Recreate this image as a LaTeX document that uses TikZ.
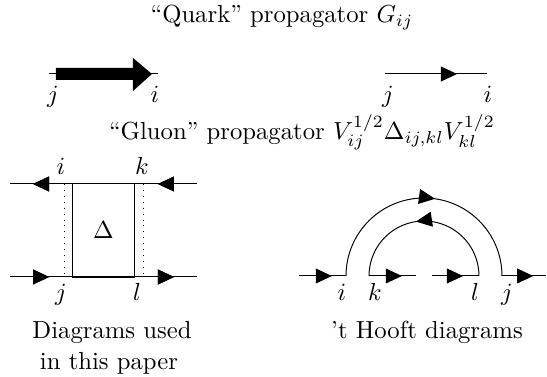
\documentclass[tikz,border=0pt]{standalone}
\usepackage{amsmath,amssymb}
\usetikzlibrary{arrows.meta,decorations.markings}

\begin{document}
\begin{tikzpicture}[x=0.405pt, y=0.405pt, line width=0.4pt,
    >={Triangle[length=6.5pt,width=6pt]},
    flow/.style={postaction={decorate},
      decoration={markings,mark=at position #1 with {\arrow{>}}}},
    idx/.style={anchor=base, inner sep=0pt}]
    \useasboundingbox (0,0) rectangle (547,-377);
    % headings
    \node[idx] (qhead) at (282,-23) {``Quark'' propagator $G_{ij}$};
    \node[idx] (ghead) at (302,-140) {``Gluon'' propagator $V_{ij}^{1/2}\Delta_{ij,kl}V_{kl}^{1/2}$};
    % quark propagator, left: thick arrow
    \coordinate (qa) at (49,-74);
    \coordinate (qb) at (158,-74);
    \draw (qa) -- (qb);
    \fill (56,-68) -- (133,-68) -- (133,-58) -- (152,-74) -- (133,-91)
        -- (133,-80) -- (56,-80) -- cycle;
    \node[idx] (qj) at (53,-103) {$j$};
    \node[idx] (qi) at (155,-103) {$i$};
    % quark propagator, right: thin line
    \coordinate (ra) at (385,-74);
    \coordinate (rb) at (487,-74);
    \draw[flow=0.706] (ra) -- (rb);
    \node[idx] (rj) at (388,-103) {$j$};
    \node[idx] (ri) at (488,-103) {$i$};
    % gluon, diagrams used in this paper
    \coordinate (tl) at (10,-184);
    \coordinate (tr) at (197,-184);
    \coordinate (bl) at (10,-277);
    \coordinate (br) at (197,-277);
    \draw[flow=0.209, flow=0.877] (tr) -- (tl);
    \draw[flow=0.209, flow=0.877] (bl) -- (br);
    \node[draw, minimum width=25.5pt, minimum height=37.7pt, inner sep=0pt]
        (box) at (103.5,-230.5) {$\Delta$};
    \draw[dotted] (64,-184) -- (64,-277);
    \draw[dotted] (143,-184) -- (143,-277);
    \node[idx] (li) at (61,-175) {$i$};
    \node[idx] (lk) at (142,-175) {$k$};
    \node[idx] (lj) at (61,-301) {$j$};
    \node[idx] (ll) at (137,-301) {$l$};
    % gluon, 't Hooft double line
    \coordinate (h0) at (299,-276);
    \coordinate (h1) at (346,-276);
    \coordinate (h2) at (369,-276);
    \coordinate (h3) at (416,-276);
    \coordinate (h4) at (432,-276);
    \coordinate (h5) at (479,-276);
    \coordinate (h6) at (502,-276);
    \coordinate (h7) at (546,-276);
    \draw[flow=0.70] (h0) -- (h1);
    \draw[flow=0.545] (h1) arc (180:0:78);
    \draw[flow=0.547] (h5) arc (0:180:55);
    \draw[flow=0.70] (h2) -- (h3);
    \draw[flow=0.66] (h4) -- (h5);
    \draw[flow=0.71] (h6) -- (h7);
    \node[idx] (hi) at (342,-301) {$i$};
    \node[idx] (hk) at (375,-301) {$k$};
    \node[idx] (hl) at (475,-301) {$l$};
    \node[idx] (hj) at (507,-301) {$j$};
    % captions
    \node[idx] (cap1) at (112,-339) {Diagrams used};
    \node[idx] (cap2) at (109,-370) {in this paper};
    \node[idx] (cap3) at (427,-339) {'t Hooft diagrams};
\end{tikzpicture}
\end{document}
